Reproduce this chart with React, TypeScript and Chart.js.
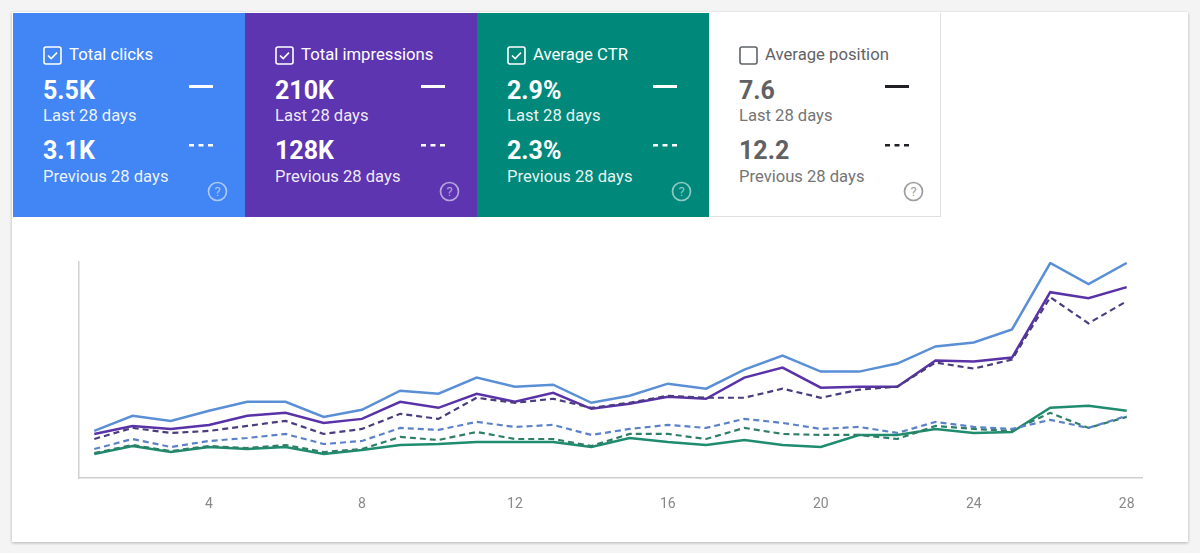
import React, { useEffect, useRef } from "react";
import { Chart, registerables } from "chart.js";

Chart.register(...registerables);

const DAYS = [1,2,3,4,5,6,7,8,9,10,11,12,13,14,15,16,17,18,19,20,21,22,23,24,25,26,27,28];
const TICKS = [4, 8, 12, 16, 20, 24, 28];

const CLICKS = [47,62,57,67,76,76,61,68,87,84,100,91,93,75,82,94,89,108,122,106,106,114,131,135,148,214,193,214];
const CLICKS_PREV = [29,39,31,37,40,44,34,37,50,48,56,51,53,43,49,53,50,59,55,49,51,45,56,51,49,58,50,62];
const IMPRESSIONS = [44,52,49,53,62,65,55,59,76,70,84,76,85,69,74,81,79,100,110,90,91,91,117,116,120,185,179,190];
const IMPRESSIONS_PREV = [39,50,45,47,52,57,44,49,64,59,80,75,79,70,75,82,80,80,89,80,88,91,115,109,118,180,154,176];
const CTR = [24,32,26,31,29,31,24,28,33,34,36,36,36,31,40,36,33,38,33,31,43,43,49,45,46,70,72,67];
const CTR_PREV = [25,33,27,32,30,33,26,29,41,38,46,39,39,32,44,44,39,50,44,43,43,39,52,49,47,65,50,61];

const CARDS = [
  { title: "Total clicks", cur: "5.5K", prev: "3.1K", bg: "#4285f4", checked: true, light: true },
  { title: "Total impressions", cur: "210K", prev: "128K", bg: "#5e35b1", checked: true, light: true },
  { title: "Average CTR", cur: "2.9%", prev: "2.3%", bg: "#00897b", checked: true, light: true },
  { title: "Average position", cur: "7.6", prev: "12.2", bg: "#ffffff", checked: false, light: false },
];

const pts = (vals: number[]) => DAYS.map((d, i) => ({ x: d, y: vals[i] }));

function Card({ c, left }: { c: any; left: number }) {
  const fg = c.light ? "#ffffff" : "#5f6368";
  const valColor = c.light ? "#ffffff" : "#616161";
  const sub = c.light ? "rgba(255,255,255,0.92)" : "#757575";
  const dash = c.light ? "#ffffff" : "#202124";
  const help = c.light ? "rgba(255,255,255,0.55)" : "#9e9e9e";
  const base: React.CSSProperties = { position: "absolute", whiteSpace: "nowrap", fontFamily: "Roboto, sans-serif" };
  return (
    <div
      style={{
        position: "absolute",
        left,
        top: 13,
        width: 232,
        height: 204,
        background: c.bg,
        boxSizing: "border-box",
        borderRight: c.light ? "none" : "1px solid #e0e0e0",
        borderBottom: c.light ? "none" : "1px solid #e0e0e0",
      }}
    >
      <svg style={{ position: "absolute", left: 30, top: 33 }} width="19" height="19" viewBox="0 0 19 19">
        <rect x="1" y="1" width="17" height="17" rx="2" fill="none" stroke={c.light ? "#fff" : "#5f6368"} strokeWidth="1.6" />
        {c.checked && <path d="M5 9.5 L8.2 12.6 L14 6.6" fill="none" stroke="#fff" strokeWidth="1.6" />}
      </svg>
      <div style={{ ...base, left: 56, top: 32, fontSize: 16.7, color: fg, lineHeight: "20px" }}>{c.title}</div>
      <div style={{ ...base, left: 30, top: 64, fontSize: 25, fontWeight: 700, color: valColor, lineHeight: "28px" }}>{c.cur}</div>
      <div style={{ ...base, left: 30, top: 93, fontSize: 16.6, color: sub, lineHeight: "20px" }}>Last 28 days</div>
      <div style={{ ...base, left: 30, top: 124, fontSize: 25, fontWeight: 700, color: valColor, lineHeight: "28px" }}>{c.prev}</div>
      <div style={{ ...base, left: 30, top: 154, fontSize: 16.6, color: sub, lineHeight: "20px" }}>Previous 28 days</div>
      <div style={{ position: "absolute", left: 176, top: 72, width: 24, height: 2.5, background: dash }} />
      <svg style={{ position: "absolute", left: 176, top: 131 }} width="24" height="3">
        <line x1="0" y1="1.25" x2="24" y2="1.25" stroke={dash} strokeWidth="2.5" strokeDasharray="5 4.5" />
      </svg>
      <svg style={{ position: "absolute", left: 194, top: 168 }} width="21" height="21" viewBox="0 0 21 21">
        <circle cx="10.5" cy="10.5" r="9" fill="none" stroke={help} strokeWidth="1.7" />
        <text x="10.5" y="15" textAnchor="middle" fontFamily="Roboto, sans-serif" fontSize="13" fill={help}>?</text>
      </svg>
    </div>
  );
}

export default function App() {
  const ref = useRef<HTMLCanvasElement | null>(null);

  useEffect(() => {
    document.body.style.margin = "0";
    document.body.style.background = "#f4f4f4";
    if (!ref.current) return;
    const ds = (label: string, vals: number[], color: string, dashed: boolean) => ({
      label,
      data: pts(vals),
      borderColor: color,
      backgroundColor: color,
      borderWidth: dashed ? 2.2 : 2.5,
      borderDash: dashed ? [6, 4] : [],
      pointRadius: 0,
      tension: 0,
      fill: false,
    });
    const chart = new Chart(ref.current, {
      type: "line",
      data: {
        datasets: [
          ds("Clicks (previous)", CLICKS_PREV, "#5b82c6", true),
          ds("CTR (previous)", CTR_PREV, "#2f7f66", true),
          ds("Impressions (previous)", IMPRESSIONS_PREV, "#4b3c7e", true),
          ds("CTR", CTR, "#1f8c6f", false),
          ds("Impressions", IMPRESSIONS, "#5a32a8", false),
          ds("Clicks", CLICKS, "#5a8fd6", false),
        ],
      },
      options: {
        animation: false,
        responsive: true,
        maintainAspectRatio: false,
        layout: { padding: { left: 67, right: 46, top: 45, bottom: 11 } },
        plugins: { legend: { display: false }, tooltip: { enabled: false } },
        scales: {
          x: {
            type: "linear",
            min: 0.6,
            max: 28.4,
            afterBuildTicks: (axis: any) => {
              axis.ticks = TICKS.map((v) => ({ value: v }));
            },
            grid: { display: false, drawTicks: false },
            border: { display: true, color: "#cfcfcf", width: 1.5 },
            ticks: {
              padding: 18,
              color: "#888888",
              font: { family: "Roboto, sans-serif", size: 14 },
              callback: (v: any) => String(v),
              maxRotation: 0,
            },
          },
          y: {
            min: 0,
            max: 215,
            grid: { display: false, drawTicks: false },
            border: { display: true, color: "#cfcfcf", width: 1.5 },
            ticks: { display: false },
          },
        },
      },
    });
    return () => chart.destroy();
  }, []);

  return (
    <div style={{ position: "fixed", left: 0, top: 0, width: 1200, height: 553, background: "#f4f4f4", overflow: "hidden" }}>
      <div
        style={{
          position: "absolute",
          left: 12,
          top: 12,
          width: 1176,
          height: 530,
          background: "#ffffff",
          boxShadow: "0 1px 3px rgba(0,0,0,0.28)",
        }}
      />
      {CARDS.map((c, i) => (
        <Card key={c.title} c={c} left={13 + i * 232} />
      ))}
      <div style={{ position: "absolute", left: 12, top: 217, width: 1176, height: 325 }}>
        <canvas ref={ref} />
      </div>
    </div>
  );
}
